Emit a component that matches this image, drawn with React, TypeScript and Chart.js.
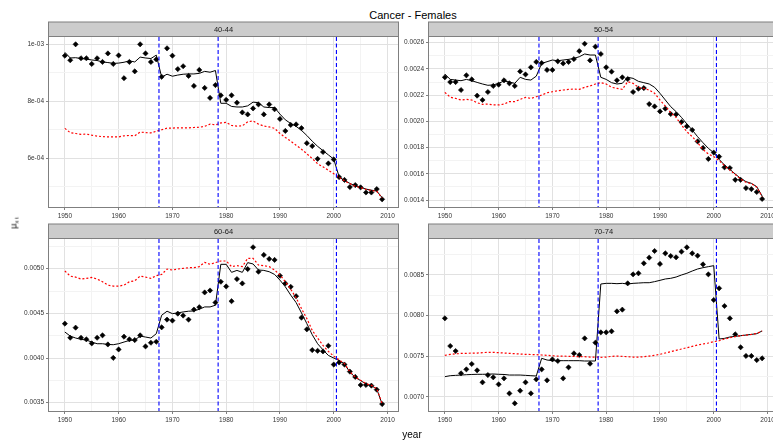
import React, { useEffect, useRef } from "react";
import { Chart, registerables } from "chart.js";
Chart.register(...registerables);

const years: number[] = Array.from({ length: 60 }, (_, i) => 1950 + i);
const breakpoints = [1967.5, 1978.5, 2000.5];
const xRange = [1947.05, 2011.95];
const xMajor = [1950, 1960, 1970, 1980, 1990, 2000, 2010];
const xMinor = [1955, 1965, 1975, 1985, 1995, 2005];

const titleText = "Cancer - Females";
const xTitle = "year";

// ---- Panel 40-44
const p1Label = "40-44";
const p1Obs = [
  9.60e-4, 9.44e-4, 1.0e-3, 9.51e-4, 9.51e-4, 9.31e-4, 9.51e-4, 9.38e-4, 9.68e-4, 9.31e-4,
  9.61e-4, 8.81e-4, 9.38e-4, 9.05e-4, 1.0e-3, 9.68e-4, 9.38e-4, 9.47e-4, 8.86e-4, 9.86e-4,
  9.60e-4, 9.13e-4, 9.23e-4, 8.89e-4, 8.54e-4, 9.10e-4, 8.47e-4, 8.12e-4, 8.57e-4, 8.21e-4,
  8.05e-4, 8.21e-4, 7.95e-4, 7.61e-4, 7.54e-4, 7.75e-4, 7.89e-4, 7.54e-4, 7.89e-4, 7.72e-4,
  7.38e-4, 6.96e-4, 7.17e-4, 7.19e-4, 7.06e-4, 6.53e-4, 6.43e-4, 5.98e-4, 6.22e-4, 5.82e-4,
  5.96e-4, 5.34e-4, 5.24e-4, 4.99e-4, 5.06e-4, 4.98e-4, 4.80e-4, 4.80e-4, 4.92e-4, 4.56e-4,
];
const p1Fit = [
  9.72e-4, 9.52e-4, 9.53e-4, 9.50e-4, 9.48e-4, 9.45e-4, 9.43e-4, 9.38e-4, 9.36e-4, 9.33e-4,
  9.34e-4, 9.37e-4, 9.42e-4, 9.38e-4, 9.55e-4, 9.52e-4, 9.50e-4, 9.62e-4, 8.85e-4, 8.95e-4,
  8.88e-4, 8.92e-4, 8.95e-4, 8.96e-4, 8.96e-4, 8.98e-4, 9.05e-4, 9.02e-4, 9.08e-4, 7.93e-4,
  7.93e-4, 7.82e-4, 7.80e-4, 7.80e-4, 7.84e-4, 7.97e-4, 7.95e-4, 7.80e-4, 7.78e-4, 7.78e-4,
  7.55e-4, 7.35e-4, 7.22e-4, 7.12e-4, 6.98e-4, 6.80e-4, 6.60e-4, 6.42e-4, 6.27e-4, 6.12e-4,
  5.97e-4, 5.35e-4, 5.22e-4, 5.12e-4, 5.03e-4, 4.98e-4, 4.92e-4, 4.88e-4, 4.85e-4, 4.62e-4,
];
const p1Alt = [
  7.05e-4, 6.90e-4, 6.87e-4, 6.84e-4, 6.85e-4, 6.81e-4, 6.78e-4, 6.76e-4, 6.75e-4, 6.75e-4,
  6.75e-4, 6.79e-4, 6.80e-4, 6.79e-4, 6.92e-4, 6.90e-4, 6.89e-4, 6.95e-4, 7.00e-4, 7.06e-4,
  7.06e-4, 7.07e-4, 7.07e-4, 7.07e-4, 7.08e-4, 7.09e-4, 7.12e-4, 7.20e-4, 7.17e-4, 7.24e-4,
  7.26e-4, 7.15e-4, 7.13e-4, 7.14e-4, 7.28e-4, 7.31e-4, 7.20e-4, 7.13e-4, 7.10e-4, 7.05e-4,
  6.87e-4, 6.73e-4, 6.60e-4, 6.46e-4, 6.32e-4, 6.16e-4, 5.99e-4, 5.81e-4, 5.70e-4, 5.58e-4,
  5.46e-4, 5.33e-4, 5.21e-4, 5.11e-4, 5.02e-4, 4.97e-4, 4.91e-4, 4.87e-4, 4.84e-4, 4.61e-4,
];
const p1YMajor = [6e-4, 8e-4, 1e-3];
const p1YLabels = ["6e-04", "8e-04", "1e-03"];
const p1YMinor = [5e-4, 7e-4, 9e-4];
const p1YRange = [4.291e-4, 1.0256e-3];

// ---- Panel 50-54
const p2Label = "50-54";
const p2Obs = [
  0.002336, 0.00230, 0.00230, 0.002239, 0.002351, 0.00232, 0.002196, 0.002163, 0.002224, 0.00227,
  0.00228, 0.002313, 0.00229, 0.00227, 0.002381, 0.002358, 0.002412, 0.002453, 0.002445, 0.002392,
  0.002392, 0.002458, 0.002442, 0.002453, 0.002475, 0.002536, 0.002592, 0.002465, 0.00257, 0.002514,
  0.002412, 0.002379, 0.002313, 0.002336, 0.002323, 0.002224, 0.002249, 0.002254, 0.002132, 0.002114,
  0.002076, 0.002097, 0.002056, 0.002053, 0.001995, 0.001962, 0.001934, 0.001847, 0.001797, 0.001713,
  0.001762, 0.001731, 0.001649, 0.001644, 0.001554, 0.001554, 0.001491, 0.001483, 0.001461, 0.001408,
];
const p2Fit = [
  0.002361, 0.00232, 0.002315, 0.00231, 0.00232, 0.00231, 0.002297, 0.002285, 0.002275, 0.002278,
  0.00229, 0.002308, 0.0023, 0.00229, 0.002336, 0.00232, 0.002315, 0.002345, 0.002442, 0.002455,
  0.002468, 0.002462, 0.002468, 0.002473, 0.00248, 0.002493, 0.002514, 0.002506, 0.002506, 0.002336,
  0.00232, 0.002295, 0.002285, 0.00229, 0.002336, 0.002328, 0.002305, 0.002295, 0.002285, 0.00226,
  0.002214, 0.002163, 0.002112, 0.002074, 0.00203, 0.00198, 0.001934, 0.001883, 0.001837, 0.001794,
  0.001761, 0.00171, 0.001667, 0.001634, 0.001598, 0.001565, 0.00154, 0.001527, 0.001502, 0.00143,
];
const p2Alt = [
  0.002221, 0.002184, 0.002175, 0.002163, 0.002168, 0.002163, 0.002142, 0.00213, 0.002132, 0.002125,
  0.002125, 0.002132, 0.00215, 0.00215, 0.002168, 0.002183, 0.002175, 0.002188, 0.0022, 0.002218,
  0.002226, 0.002234, 0.002239, 0.002244, 0.002246, 0.002244, 0.00226, 0.00227, 0.002285, 0.002295,
  0.002285, 0.00226, 0.002252, 0.002244, 0.002303, 0.00229, 0.00226, 0.002252, 0.002239, 0.002214,
  0.002163, 0.002117, 0.002066, 0.00203, 0.001972, 0.001921, 0.001883, 0.001837, 0.001786, 0.001751,
  0.001731, 0.0017, 0.001662, 0.001629, 0.001595, 0.00156, 0.001535, 0.001525, 0.001497, 0.001425,
];
const p2YMajor = [0.0014, 0.0016, 0.0018, 0.002, 0.0022, 0.0024, 0.0026];
const p2YLabels = ["0.0014", "0.0016", "0.0018", "0.0020", "0.0022", "0.0024", "0.0026"];
const p2YMinor = [0.0015, 0.0017, 0.0019, 0.0021, 0.0023, 0.0025];
const p2YRange = [0.0013466, 0.0026435];

// ---- Panel 60-64
const p3Label = "60-64";
const p3Obs = [
  0.004385, 0.004227, 0.00434, 0.004227, 0.004209, 0.004164, 0.004227, 0.004254, 0.004152, 0.004002,
  0.004096, 0.004239, 0.004209, 0.004201, 0.004254, 0.00413, 0.004171, 0.004182, 0.004344, 0.00443,
  0.004419, 0.004497, 0.004475, 0.00443, 0.004542, 0.004569, 0.004734, 0.004756, 0.004621, 0.004854,
  0.004801, 0.004636, 0.004884, 0.004835, 0.004996, 0.00524, 0.004966, 0.005154, 0.005109, 0.005098,
  0.004921, 0.004835, 0.004797, 0.004692, 0.004452, 0.004321, 0.004089, 0.004081, 0.004074, 0.004137,
  0.003927, 0.00395, 0.003927, 0.003848, 0.003788, 0.003698, 0.003698, 0.003691, 0.003646, 0.003485,
];
const p3Fit = [
  0.004291, 0.004246, 0.004224, 0.004209, 0.004201, 0.004179, 0.00416, 0.00416, 0.004152, 0.004149,
  0.00416, 0.004179, 0.004197, 0.004201, 0.004246, 0.004235, 0.004224, 0.004272, 0.004479, 0.004524,
  0.004497, 0.004505, 0.004516, 0.004524, 0.004527, 0.004546, 0.004572, 0.004572, 0.004591, 0.005049,
  0.005049, 0.004959, 0.004981, 0.004959, 0.005068, 0.005053, 0.004985, 0.004981, 0.004966, 0.004936,
  0.004872, 0.004797, 0.004704, 0.004621, 0.004505, 0.004385, 0.004261, 0.00416, 0.004092, 0.004029,
  0.0040, 0.003972, 0.003935, 0.003841, 0.003785, 0.003747, 0.00371, 0.003691, 0.003653, 0.003485,
];
const p3Alt = [
  0.004974, 0.004917, 0.004906, 0.004884, 0.004891, 0.004902, 0.004884, 0.004854, 0.004816, 0.004805,
  0.004805, 0.004816, 0.004854, 0.004865, 0.004917, 0.004906, 0.004891, 0.004921, 0.004936, 0.004996,
  0.004985, 0.004996, 0.005004, 0.005011, 0.005011, 0.005023, 0.005071, 0.005049, 0.005068, 0.005086,
  0.005086, 0.005023, 0.005034, 0.005023, 0.005116, 0.005116, 0.005041, 0.005034, 0.005023, 0.004985,
  0.004929, 0.004854, 0.004771, 0.004674, 0.004554, 0.004441, 0.00431, 0.004224, 0.004141, 0.004074,
  0.004021, 0.00398, 0.003938, 0.003845, 0.003788, 0.00375, 0.003713, 0.003694, 0.003656, 0.003488,
];
const p3YMajor = [0.0035, 0.004, 0.0045, 0.005];
const p3YLabels = ["0.0035", "0.0040", "0.0045", "0.0050"];
const p3YMinor = [0.00375, 0.00425, 0.00475, 0.00525];
const p3YRange = [0.003407, 0.0053324];

// ---- Panel 70-74
const p4Label = "70-74";
const p4Obs = [
  0.007966, 0.007625, 0.007563, 0.007288, 0.007337, 0.007403, 0.007325, 0.007177, 0.007267, 0.007239,
  0.007152, 0.007226, 0.007041, 0.006918, 0.007074, 0.007177, 0.007041, 0.007214, 0.007337, 0.007202,
  0.00746, 0.00744, 0.007226, 0.007362, 0.007534, 0.007514, 0.007719, 0.007407, 0.007666, 0.007793,
  0.007793, 0.007806, 0.008052, 0.008073, 0.008397, 0.008508, 0.008521, 0.008644, 0.008714, 0.008796,
  0.008636, 0.008767, 0.008734, 0.008718, 0.008788, 0.008841, 0.008767, 0.008738, 0.008631, 0.008508,
  0.008192, 0.008336, 0.008118, 0.007966, 0.007769, 0.007609, 0.007502, 0.007502, 0.007452, 0.007473,
];
const p4Fit = [
  0.007247, 0.007259, 0.007263, 0.007267, 0.007271, 0.007274, 0.007276, 0.007276, 0.007278, 0.00728,
  0.007276, 0.007274, 0.007267, 0.007267, 0.007267, 0.007263, 0.007259, 0.007255, 0.007473, 0.007452,
  0.007444, 0.007444, 0.007444, 0.007444, 0.007444, 0.007444, 0.00744, 0.00744, 0.00744, 0.008389,
  0.008397, 0.008397, 0.008393, 0.008397, 0.008389, 0.008397, 0.008401, 0.008405, 0.008405, 0.008418,
  0.008434, 0.008451, 0.008459, 0.008475, 0.0085, 0.008521, 0.008549, 0.008574, 0.00859, 0.008603,
  0.008615, 0.007711, 0.007719, 0.007736, 0.007744, 0.007752, 0.00776, 0.007768, 0.007777, 0.00781,
];
const p4Alt = [
  0.00751, 0.007522, 0.007528, 0.007534, 0.007534, 0.007538, 0.007538, 0.007543, 0.007547, 0.007547,
  0.007543, 0.007538, 0.007534, 0.00753, 0.007526, 0.007522, 0.00752, 0.007518, 0.007514, 0.00751,
  0.007505, 0.007501, 0.007501, 0.007497, 0.007497, 0.007493, 0.007493, 0.007489, 0.007489, 0.007485,
  0.007489, 0.007497, 0.007501, 0.007497, 0.007493, 0.007489, 0.007489, 0.007493, 0.007501, 0.00751,
  0.007522, 0.007539, 0.007555, 0.007571, 0.007588, 0.007604, 0.007621, 0.007637, 0.007649, 0.007662,
  0.007678, 0.00769, 0.007711, 0.007727, 0.00774, 0.007752, 0.00776, 0.007768, 0.00778, 0.00781,
];
const p4YMajor = [0.007, 0.0075, 0.008, 0.0085];
const p4YLabels = ["0.0070", "0.0075", "0.0080", "0.0085"];
const p4YMinor = [0.00725, 0.00775, 0.00825, 0.00875];
const p4YRange = [0.0068238, 0.0089437];

const FONT = "'Liberation Sans', Arial, sans-serif";
const TICK_COLOR = "#333333";
const GREY50 = "#7F7F7F";

const near = (arr: number[], v: number) => arr.findIndex((m) => Math.abs(m - v) < 1e-9);

const decorPlugin = {
  id: "panelDecor",
  afterDatasetsDraw(chart: any) {
    const { ctx, chartArea: a, scales } = chart;
    const x = scales.x;
    ctx.save();
    ctx.beginPath();
    ctx.rect(a.left, a.top, a.right - a.left, a.bottom - a.top);
    ctx.clip();
    ctx.strokeStyle = "#0000FF";
    ctx.lineWidth = 1.1;
    ctx.setLineDash([4, 2.5]);
    breakpoints.forEach((b) => {
      const px = x.getPixelForValue(b);
      ctx.beginPath();
      ctx.moveTo(px, a.top);
      ctx.lineTo(px, a.bottom);
      ctx.stroke();
    });
    ctx.restore();
  },
  afterDraw(chart: any, _args: any, opts: any) {
    const { ctx, chartArea: a } = chart;
    ctx.save();
    ctx.strokeStyle = GREY50;
    ctx.lineWidth = 1;
    ctx.strokeRect(a.left - 0.5, a.top - 0.5, a.right - a.left + 1, a.bottom - a.top + 1);
    const sh = opts.stripHeight || 14.5;
    ctx.fillStyle = "#CCCCCC";
    ctx.fillRect(a.left - 0.5, a.top - 0.5 - sh, a.right - a.left + 1, sh);
    ctx.strokeRect(a.left - 0.5, a.top - 0.5 - sh, a.right - a.left + 1, sh);
    ctx.fillStyle = "#1A1A1A";
    ctx.font = `7.5px ${FONT}`;
    ctx.textAlign = "center";
    ctx.textBaseline = "middle";
    ctx.fillText(opts.label || "", (a.left + a.right) / 2, a.top - 0.5 - sh / 2 + 0.5);
    ctx.restore();
  },
};

type PanelProps = {
  label: string;
  obs: number[];
  fit: number[];
  alt: number[];
  yMajor: number[];
  yLabels: string[];
  yMinor: number[];
  yRange: number[];
  cx: number;
  cy: number;
  cw: number;
  ch: number;
  L: number;
  R: number;
  T: number;
  B: number;
};

function Panel(p: PanelProps) {
  const ref = useRef<HTMLCanvasElement>(null);
  useEffect(() => {
    if (!ref.current) return;
    const yW = p.L - p.cx;
    const padTop = p.T - p.cy;
    const padRight = p.cx + p.cw - p.R;
    const xH = p.cy + p.ch - p.B;
    const xTicks = [...xMajor, ...xMinor].sort((a, b) => a - b);
    const yTicks = [...p.yMajor, ...p.yMinor].sort((a, b) => a - b);
    const chart = new Chart(ref.current, {
      type: "scatter",
      data: {
        datasets: [
          {
            data: years.map((x, i) => ({ x, y: p.alt[i] })),
            showLine: true,
            borderColor: "#FF0000",
            borderWidth: 1.2,
            borderDash: [2, 2],
            pointRadius: 0,
            order: 1,
          } as any,
          {
            data: years.map((x, i) => ({ x, y: p.fit[i] })),
            showLine: true,
            borderColor: "#000000",
            borderWidth: 1,
            pointRadius: 0,
            order: 2,
          } as any,
          {
            data: years.map((x, i) => ({ x, y: p.obs[i] })),
            showLine: false,
            pointStyle: "rectRot",
            pointRadius: 2.6,
            backgroundColor: "#000000",
            borderColor: "#000000",
            borderWidth: 0.6,
            order: 3,
          } as any,
        ],
      },
      options: {
        animation: false,
        responsive: false,
        events: [],
        layout: { padding: { left: 0, top: padTop, right: padRight, bottom: 0 } },
        plugins: {
          legend: { display: false },
          tooltip: { enabled: false },
          panelDecor: { label: p.label, stripHeight: 14.5 },
        } as any,
        scales: {
          x: {
            type: "linear",
            min: xRange[0],
            max: xRange[1],
            afterFit: (s: any) => {
              s.height = xH;
            },
            afterBuildTicks: (s: any) => {
              s.ticks = xTicks.map((v) => ({ value: v }));
            },
            ticks: {
              autoSkip: false,
              maxRotation: 0,
              padding: 2,
              color: TICK_COLOR,
              font: { family: FONT, size: 6.5 },
              callback: (v: any) => (near(xMajor, Number(v)) >= 0 ? String(v) : ""),
            },
            grid: {
              color: (c: any) => (c.tick && near(xMajor, c.tick.value) >= 0 ? "#E1E1E1" : "#F3F3F3"),
              tickColor: (c: any) => (c.tick && near(xMajor, c.tick.value) >= 0 ? GREY50 : "rgba(0,0,0,0)"),
              tickLength: 3,
              lineWidth: 1,
            },
            border: { display: false },
          },
          y: {
            type: "linear",
            min: p.yRange[0],
            max: p.yRange[1],
            afterFit: (s: any) => {
              s.width = yW;
            },
            afterBuildTicks: (s: any) => {
              s.ticks = yTicks.map((v) => ({ value: v }));
            },
            ticks: {
              autoSkip: false,
              padding: 2,
              color: TICK_COLOR,
              font: { family: FONT, size: 6.5 },
              callback: (v: any) => {
                const i = near(p.yMajor, Number(v));
                return i >= 0 ? p.yLabels[i] : "";
              },
            },
            grid: {
              color: (c: any) => (c.tick && near(p.yMajor, c.tick.value) >= 0 ? "#E1E1E1" : "#F3F3F3"),
              tickColor: (c: any) => (c.tick && near(p.yMajor, c.tick.value) >= 0 ? GREY50 : "rgba(0,0,0,0)"),
              tickLength: 3,
              lineWidth: 1,
            },
            border: { display: false },
          },
        },
      } as any,
      plugins: [decorPlugin as any],
    });
    return () => chart.destroy();
  }, []);
  return (
    <canvas
      ref={ref}
      width={p.cw}
      height={p.ch}
      style={{ position: "absolute", left: p.cx, top: p.cy, width: p.cw, height: p.ch }}
    />
  );
}

export default function App() {
  return (
    <div
      style={{
        position: "fixed",
        left: 0,
        top: 0,
        width: 773,
        height: 443,
        overflow: "hidden",
        background: "#FFFFFF",
        fontFamily: FONT,
      }}
    >
      <div
        style={{
          position: "absolute",
          left: 413,
          top: 9,
          transform: "translateX(-50%)",
          fontSize: 11,
          lineHeight: "12px",
          color: "#000",
          whiteSpace: "nowrap",
        }}
      >
        {titleText}
      </div>
      <Panel label={p1Label} obs={p1Obs} fit={p1Fit} alt={p1Alt} yMajor={p1YMajor} yLabels={p1YLabels}
        yMinor={p1YMinor} yRange={p1YRange} cx={0} cy={15} cw={410} ch={215} L={49} R={398} T={37} B={207} />
      <Panel label={p2Label} obs={p2Obs} fit={p2Fit} alt={p2Alt} yMajor={p2YMajor} yLabels={p2YLabels}
        yMinor={p2YMinor} yRange={p2YRange} cx={380} cy={15} cw={410} ch={215} L={429} R={778} T={37} B={207} />
      <Panel label={p3Label} obs={p3Obs} fit={p3Fit} alt={p3Alt} yMajor={p3YMajor} yLabels={p3YLabels}
        yMinor={p3YMinor} yRange={p3YRange} cx={0} cy={218} cw={410} ch={215} L={49} R={398} T={239} B={411} />
      <Panel label={p4Label} obs={p4Obs} fit={p4Fit} alt={p4Alt} yMajor={p4YMajor} yLabels={p4YLabels}
        yMinor={p4YMinor} yRange={p4YRange} cx={380} cy={218} cw={410} ch={215} L={429} R={778} T={239} B={411} />
      <div
        style={{
          position: "absolute",
          left: 412,
          top: 429,
          transform: "translateX(-50%)",
          fontSize: 10,
          lineHeight: "12px",
          color: "#000",
        }}
      >
        {xTitle}
      </div>
      <div
        style={{
          position: "absolute",
          left: 15,
          top: 223,
          transform: "translate(-50%, -50%) rotate(-90deg)",
          fontSize: 9,
          lineHeight: "10px",
          color: "#000",
          whiteSpace: "nowrap",
        }}
      >
        μ<sub style={{ fontSize: 6, verticalAlign: "-2px" }}>x t</sub>
      </div>
    </div>
  );
}
